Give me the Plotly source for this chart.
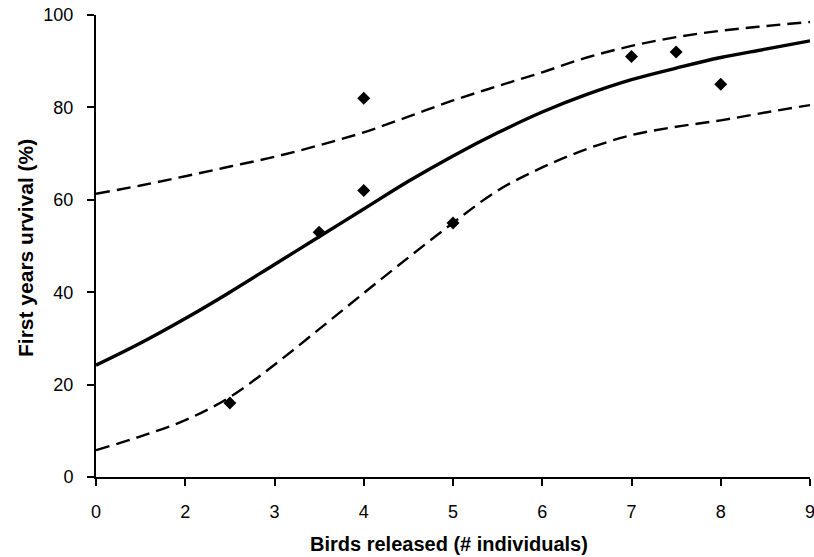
import plotly.graph_objects as go

# observed data points
obs_x = [2.5, 3.5, 4, 4, 5, 7, 7.5, 8]
obs_y = [16, 53, 62, 82, 55, 91, 92, 85]

# curves
curve_x = [1, 1.5, 2, 2.5, 3, 3.5, 4, 4.5, 5, 5.5, 6, 6.5, 7, 7.5, 8, 8.5, 9]
fit_y = [24.2, 29, 34.3, 40, 46, 52, 58, 64, 69.5, 74.5, 79, 82.8, 86, 88.5, 90.8, 92.6, 94.4]
upper_y = [61.3, 63.1, 65.1, 67.2, 69.3, 71.8, 74.6, 78, 81.5, 84.6, 87.6, 90.8, 93.3, 95.2, 96.6, 97.6, 98.5]
lower_y = [5.8, 8.8, 12.3, 17.3, 24.3, 32, 39.8, 47.5, 55, 62, 67, 71, 74, 75.8, 77.2, 78.9, 80.5]

x_tickvals = [1, 2, 3, 4, 5, 6, 7, 8, 9]
x_ticktext = ["0", "2", "3", "4", "5", "6", "7", "8", "9"]
y_tickvals = [0, 20, 40, 60, 80, 100]

fig = go.Figure()
fig.add_trace(go.Scatter(x=curve_x, y=upper_y, mode="lines", line=dict(color="black", width=2.4, dash="14px,7px", shape="spline"), showlegend=False))
fig.add_trace(go.Scatter(x=curve_x, y=lower_y, mode="lines", line=dict(color="black", width=2.4, dash="14px,7px", shape="spline"), showlegend=False))
fig.add_trace(go.Scatter(x=curve_x, y=fit_y, mode="lines", line=dict(color="black", width=3.4, shape="spline"), showlegend=False))
fig.add_trace(go.Scatter(x=obs_x, y=obs_y, mode="markers", marker=dict(symbol="diamond", size=10, color="black"), showlegend=False))

font = "Liberation Sans, Arial, sans-serif"
fig.update_layout(
    width=814, height=557,
    margin=dict(l=96, r=4, t=15, b=80),
    paper_bgcolor="white", plot_bgcolor="white",
    font=dict(family=font, size=18, color="black"),
    xaxis=dict(range=[1, 9], tickvals=x_tickvals, ticktext=x_ticktext, showgrid=False, zeroline=False,
               showline=True, linecolor="black", linewidth=2, ticks="outside", ticklen=7, tickwidth=2,
               tickcolor="black", ticklabelstandoff=10, automargin=False, ticklabeloverflow="allow"),
    yaxis=dict(range=[0, 100], tickvals=y_tickvals, showgrid=False, zeroline=False,
               showline=True, linecolor="black", linewidth=2, ticks="outside", ticklen=7, tickwidth=2,
               tickcolor="black", ticklabelstandoff=10, automargin=False, ticklabeloverflow="allow"),
    annotations=[
        dict(text="<b>Birds released (# individuals)</b>", xref="paper", yref="paper",
             x=(449 - 96) / 714, y=(477 - 544) / 462, xanchor="center", yanchor="middle",
             showarrow=False, font=dict(size=20, family=font)),
        dict(text="<b>First years urvival (%)</b>", xref="paper", yref="paper",
             x=(26 - 96) / 714, y=(477 - 248) / 462, xanchor="center", yanchor="middle",
             textangle=-90, showarrow=False, font=dict(size=21, family=font)),
    ],
)

# remove the default 8px page margin so the 814x557 figure fills the window exactly
fig.write_html("out.html", config={"displayModeBar": False},
               post_script="document.body.style.margin='0';")
